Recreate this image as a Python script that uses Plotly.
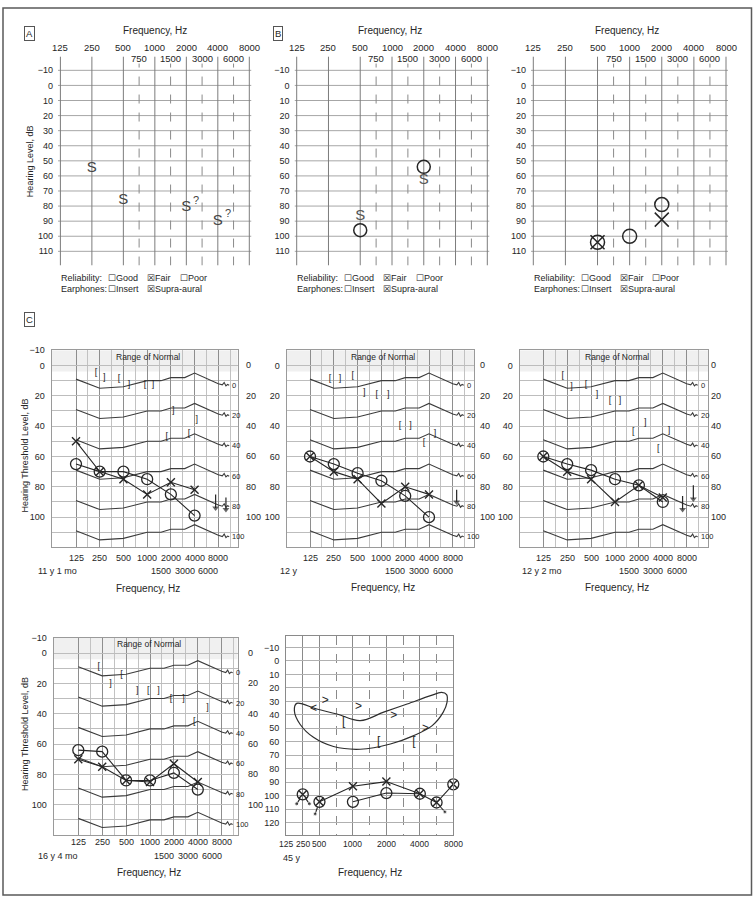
import math
import plotly.graph_objects as go

W, H = 755, 900
FONT = "Liberation Sans, Arial, sans-serif"
INK = "#262626"

# ======================= DATA =======================
# ---- top row: half-octave audiogram form (columns) ----
TOP_FREQS = [125, 250, 500, 750, 1000, 1500, 2000, 3000, 4000, 6000, 8000]
TOP_POS = [0, 2, 4, 5, 6, 7, 8, 9, 10, 11, 12]
TOP_OCTAVE_FREQS = [125, 250, 500, 1000, 2000, 4000, 8000]
TOP_OCTAVE_LABELS = ["125", "250", "500", "1000", "2000", "4000", "8000"]
TOP_MID_FREQS = [750, 1500, 3000, 6000]
TOP_MID_LABELS = ["750", "1500", "3000", "6000"]
TOP_DB_TICKS = [-10, 0, 10, 20, 30, 40, 50, 60, 70, 80, 90, 100, 110]

A_S_FREQ = [250, 500, 2000, 4000]
A_S_DB = [55, 76, 81, 90]
A_S_QUERY = [False, False, True, True]

B_S_FREQ = [500, 2000]
B_S_DB = [87, 63]
B_O_FREQ = [500, 2000]
B_O_DB = [96, 54]

T3_O_FREQ = [500, 1000, 2000]
T3_O_DB = [104, 100, 79]
T3_X_FREQ = [500, 2000]
T3_X_DB = [104, 89]

RELIABILITY_ITEMS = ["Good", "Fair", "Poor"]
RELIABILITY_CHECKED = "Fair"
EARPHONE_ITEMS = ["Insert", "Supra-aural"]
EARPHONE_CHECKED = "Supra-aural"

# ---- C row: serial audiograms (log frequency) ----
C_FREQS = [125, 250, 500, 1000, 2000, 4000]
C_OCTAVES = [125, 250, 500, 1000, 2000, 4000, 8000]
C_OCTAVE_LABELS = ["125", "250", "500", "1000", "2000", "4000", "8000"]
C_MID_FREQS = [1500, 3000, 6000]
C_MID_LABELS = ["1500", "3000", "6000"]
C_HALF_OCTAVES = [177, 354, 707, 1414, 2828, 5657, 11314]
C_RIGHT_TICKS = [0, 20, 40, 60, 80, 100]
NORMAL_FREQS = [125, 250, 500, 1000, 1500, 2000, 3000, 4000, 8000]
NORMAL_SHAPE = [9, 15, 14, 10, 10, 8, 8, 5, 12]
NORMAL_OFFSETS = [0, 20, 40, 60, 80, 100]

C1_AGE = "11 y 1 mo"
C1_O = [65, 70, 70, 75, 85, 99]
C1_X = [50, 70, 75, 85, 77, 82]
C1_BR_SYM = ["[", "]", "[", "]", "[", "]", "]", "]", "[", "["]
C1_BR_FREQ = [225, 285, 440, 590, 940, 1190, 2150, 4250, 1780, 3400]
C1_BR_DB = [5, 8, 9, 13, 13, 13, 30, 36, 47, 45]
C1_NR_FREQ = [7400, 10000]
C1_NR_FROM = [85, 87]
C1_NR_TO = [94, 95]

C2_AGE = "12 y"
C2_O = [60, 65, 71, 76, 86, 100]
C2_X = [60, 70, 75, 91, 80, 85]
C2_BR_SYM = ["[", "]", "[", "]", "[", "]", "[", "]", "]", "["]
C2_BR_FREQ = [224, 300, 433, 608, 874, 1220, 1720, 2340, 4760, 3450]
C2_BR_DB = [9, 9, 7, 18, 19, 19, 40, 40, 45, 51]
C2_NR_FREQ = [8950]
C2_NR_FROM = [82]
C2_NR_TO = [90]

C3_AGE = "12 y 2 mo"
C3_O = [60, 65, 69, 75, 79, 90]
C3_X = [60, 70, 75, 90, 79, 87]
C3_BR_SYM = ["[", "]", "[", "]", "[", "]", "[", "]", "]", "["]
C3_BR_FREQ = [219, 283, 431, 592, 863, 1160, 1700, 2400, 4800, 3500]
C3_BR_DB = [7, 14, 13, 19, 23.5, 23.5, 44, 38, 43, 55]
C3_NR_FREQ = [7100, 9700]
C3_NR_FROM = [86, 79]
C3_NR_TO = [95, 88]

C4_AGE = "16 y 4 mo"
C4_O = [64, 65, 84, 84, 79, 90]
C4_X = [70, 75, 84, 85, 73, 85]
C4_BR_SYM = ["[", "]", "[", "]", "[", "]", "[", "]", "]", "["]
C4_BR_FREQ = [226, 319, 437, 690, 950, 1280, 1840, 2650, 5300, 3600]
C4_BR_DB = [9, 20, 14, 25, 25, 25, 30, 30, 36, 45]
C4_NR_FREQ = []
C4_NR_FROM = []
C4_NR_TO = []

# ---- 45 y panel (equally spaced columns) ----
D_FREQS = [125, 250, 500, 750, 1000, 1500, 2000, 3000, 4000, 6000, 8000]
D_SOLID = [125, 250, 500, 1000, 2000, 4000, 8000]
D_DASHED = [750, 1500, 3000, 6000]
D_LABELS = ["125", "250", "500", "1000", "2000", "4000", "8000"]
D_DB_TICKS = [-10, 0, 10, 20, 30, 40, 50, 60, 70, 80, 90, 100, 110, 120]
D_AGE = "45 y"
D_X_FREQ = [250, 500, 1000, 2000, 4000, 6000, 8000]
D_X_DB = [99, 104.5, 93, 89.5, 98.5, 105, 91.5]
D_O_FREQ = [250, 500, 1000, 2000, 4000, 6000, 8000]
D_O_DB = [99, 104.5, 104.5, 98, 98.5, 105, 91.5]
D_X_LINE = [500, 1000, 2000, 4000, 6000, 8000]
D_O_LINE = [1000, 2000, 4000]
D_NR_FREQ = [250, 250, 500, 6000, 8000]
D_NR_DIDX = [-0.36, 0.4, -0.26, 0.5, 0.4]
D_NR_DDB = [7, 7, 9, 7, 9.5]
D_RANGE_IDX = [0.64, 1.84, 3.04, 4.44, 5.84, 7.24, 8.64, 9.3, 9.6, 9.62, 9.4, 8.74, 7.64, 6.24, 4.44, 2.84, 1.64, 0.84, 0.5, 0.64]
D_RANGE_DB = [31.5, 35.7, 39.4, 44.3, 38, 32, 25.8, 23.4, 25, 31, 38, 48, 55.4, 61.6, 65.5, 63.5, 56.7, 47, 37, 31.5]
D_SYM = ["<", ">", ">", "[", ">", ">", "[", "["]
D_SYM_IDX = [1.64, 2.34, 4.34, 3.44, 6.44, 8.34, 5.54, 7.64]
D_SYM_DB = [35.5, 29.5, 34.5, 45.5, 40.5, 50.5, 60.5, 60.5]

# ======================= HELPERS =======================
def px(x):
    return x / W


def py(y):
    return 1 - y / H


def lin_range(p0, v0, p1, v1, e0, e1):
    s = (v1 - v0) / (p1 - p0)
    return [v0 + (e0 - p0) * s, v0 + (e1 - p0) * s]


fig = go.Figure()
ann = []
shapes = []
lay = {}


def names(n):
    if n == 1:
        return "xaxis", "yaxis", "x", "y"
    return f"xaxis{n}", f"yaxis{n}", f"x{n}", f"y{n}"


def note(text, x, y, size=9.5, xanchor="center", yanchor="middle",
         xref="paper", yref="paper", color=INK, **kw):
    ann.append(dict(text=text, x=x, y=y, xref=xref, yref=yref, showarrow=False,
                    font=dict(family=FONT, size=size, color=color),
                    xanchor=xanchor, yanchor=yanchor, **kw))


def marker_trace(xr, yr, x, y, symbol, size, width=1.3, color=INK):
    fig.add_trace(go.Scatter(
        x=x, y=y, mode="markers", xaxis=xr, yaxis=yr, hoverinfo="skip", cliponaxis=False,
        marker=dict(symbol=symbol, size=size, color=color,
                    line=dict(width=width, color=color))))


def text_trace(xr, yr, x, y, txt, size, color=INK, family=FONT):
    fig.add_trace(go.Scatter(
        x=x, y=y, mode="text", text=txt, xaxis=xr, yaxis=yr, hoverinfo="skip",
        cliponaxis=False, textfont=dict(size=size, color=color, family=family)))


# ======================= TOP ROW =======================
pos_top = dict(zip(TOP_FREQS, TOP_POS))
TOP_PANELS = [
    dict(n=1, p0=60.4, p12=249.3, e=(58.0, 251.5), rel_x=59.0, freq_title_x=155.0),
    dict(n=2, p0=296.7, p12=487.3, e=(294.5, 489.5), rel_x=295.0, freq_title_x=390.0),
    dict(n=3, p0=533.3, p12=726.0, e=(531.0, 728.0), rel_x=531.7, freq_title_x=626.7),
]
TOP_Y_RANGE = lin_range(65.7, -10, 247.7, 110, 262, 51.7)
for P in TOP_PANELS:
    xa, ya, xr, yr = names(P["n"])
    e0, e1 = P["e"]
    xrange_ = lin_range(P["p0"], 0, P["p12"], 12, e0, e1)
    lay[xa] = dict(domain=[px(e0), px(e1)], range=xrange_, anchor=yr,
                   showticklabels=False, ticks="", showgrid=False,
                   zeroline=False, showline=False, fixedrange=True)
    lay[ya] = dict(domain=[py(262), py(51.7)], range=TOP_Y_RANGE, anchor=xr,
                   tickvals=TOP_DB_TICKS, tickfont=dict(family=FONT, size=9, color=INK),
                   showgrid=False, zeroline=False, ticks="", showline=False,
                   fixedrange=True, ticklabelstandoff=4)
    # grid of the audiogram form
    for v in TOP_DB_TICKS:
        shapes.append(dict(type="line", xref=xr, yref=yr, x0=xrange_[0], x1=xrange_[1],
                           y0=v, y1=v, line=dict(color="#a6a6a6", width=1), layer="below"))
    for f in TOP_OCTAVE_FREQS:
        shapes.append(dict(type="line", xref=xr, yref=yr, x0=pos_top[f], x1=pos_top[f],
                           y0=TOP_Y_RANGE[0], y1=TOP_Y_RANGE[1],
                           line=dict(color="#7c7c7c", width=1), layer="below"))
    for f in TOP_MID_FREQS:
        shapes.append(dict(type="line", xref=xr, yref=yr, x0=pos_top[f], x1=pos_top[f],
                           y0=TOP_Y_RANGE[0], y1=-14.5,
                           line=dict(color="#8a8a8a", width=1, dash="dash"), layer="below"))
    for f, lab in zip(TOP_OCTAVE_FREQS, TOP_OCTAVE_LABELS):
        note(lab, pos_top[f], py(42.7), size=9.5, xref=xr)
    for f, lab in zip(TOP_MID_FREQS, TOP_MID_LABELS):
        note(lab, pos_top[f], py(53.8), size=9.5, xref=xr)
    note("Frequency, Hz", px(P["freq_title_x"]), py(26), size=10)
    # reliability / earphones
    x0 = P["rel_x"]
    offs = [47, 86, 118.7]
    note("Reliability:", px(x0), py(275), size=9, xanchor="left")
    for o, item in zip(offs, RELIABILITY_ITEMS):
        box = "☒" if item == RELIABILITY_CHECKED else "☐"
        note(box + item, px(x0 + o), py(275), size=9, xanchor="left")
    note("Earphones:", px(x0), py(285.5), size=9, xanchor="left")
    for o, item in zip(offs, EARPHONE_ITEMS):
        box = "☒" if item == EARPHONE_CHECKED else "☐"
        note(box + item, px(x0 + o), py(285.5), size=9, xanchor="left")

# panel A marks
text_trace("x", "y", [pos_top[f] for f in A_S_FREQ], A_S_DB, ["S"] * len(A_S_FREQ), 15,
           color="#444")
for f, d, q in zip(A_S_FREQ, A_S_DB, A_S_QUERY):
    if q:
        ann.append(dict(text="?", x=pos_top[f], y=d, xref="x", yref="y", showarrow=False,
                        xshift=10, yshift=8, font=dict(family=FONT, size=11, color="#444")))
note("Hearing Level, dB", px(30), py(157), size=9, textangle=-90)
note("A", px(29), py(29), size=9.5, bordercolor="#555", borderwidth=1, borderpad=1)

# panel B marks
text_trace("x2", "y2", [pos_top[f] for f in B_S_FREQ], B_S_DB, ["S", "S"], 15, color="#555")
marker_trace("x2", "y2", [pos_top[f] for f in B_O_FREQ], B_O_DB, "circle-open", 13, width=1.5)
note("B", px(278), py(29), size=9.5, bordercolor="#555", borderwidth=1, borderpad=1)

# third top panel marks
marker_trace("x3", "y3", [pos_top[f] for f in T3_O_FREQ], T3_O_DB, "circle-open", 14, width=1.5)
marker_trace("x3", "y3", [pos_top[f] for f in T3_X_FREQ], T3_X_DB, "x-thin-open", 14, width=1.5)

# ======================= C ROW =======================
C_PANELS = [
    dict(n=4, p125=76.0, p8000=218.3, ex=(51.5, 237.5), p0=362.5, p100=515.0, ey=(347.25, 545.5),
         O=C1_O, X=C1_X, brs=C1_BR_SYM, brf=C1_BR_FREQ, brd=C1_BR_DB,
         nrf=C1_NR_FREQ, nra=C1_NR_FROM, nrb=C1_NR_TO, age=C1_AGE, ticks_m10=True,
         rows=(556.5, 569.5, 586.5), age_x=36.0, right_x=244.0),
    dict(n=5, p125=310.0, p8000=452.8, ex=(286.5, 474.0), p0=362.5, p100=515.0, ey=(347.25, 545.5),
         O=C2_O, X=C2_X, brs=C2_BR_SYM, brf=C2_BR_FREQ, brd=C2_BR_DB,
         nrf=C2_NR_FREQ, nra=C2_NR_FROM, nrb=C2_NR_TO, age=C2_AGE, ticks_m10=False,
         rows=(556.5, 569.5, 585.5), age_x=278.0, right_x=477.5),
    dict(n=6, p125=543.3, p8000=686.7, ex=(519.5, 708.0), p0=362.5, p100=515.0, ey=(347.25, 545.5),
         O=C3_O, X=C3_X, brs=C3_BR_SYM, brf=C3_BR_FREQ, brd=C3_BR_DB,
         nrf=C3_NR_FREQ, nra=C3_NR_FROM, nrb=C3_NR_TO, age=C3_AGE, ticks_m10=False,
         rows=(556.5, 569.5, 585.5), age_x=520.0, right_x=709.0),
    dict(n=7, p125=78.3, p8000=221.7, ex=(53.5, 237.5), p0=651.7, p100=804.2, ey=(636.4, 834.7),
         O=C4_O, X=C4_X, brs=C4_BR_SYM, brf=C4_BR_FREQ, brd=C4_BR_DB,
         nrf=C4_NR_FREQ, nra=C4_NR_FROM, nrb=C4_NR_TO, age=C4_AGE, ticks_m10=True,
         rows=(841.5, 856.0, 872.0), age_x=36.0, right_x=246.0),
]
TAIL_F = [8000, 9000, 9500, 10000, 10500, 11000]
TAIL_D = [0, 0.8, -0.8, 1.5, 0.5, 1.0]
for P in C_PANELS:
    xa, ya, xr, yr = names(P["n"])
    e0, e1 = P["ex"]
    t0, t1 = P["ey"]
    lay[xa] = dict(domain=[px(e0), px(e1)], type="log",
                   range=lin_range(P["p125"], math.log10(125), P["p8000"], math.log10(8000), e0, e1),
                   anchor=yr, tickvals=C_OCTAVES, showticklabels=False, ticks="",
                   showgrid=True, gridcolor="#8e8e8e", gridwidth=1, zeroline=False,
                   showline=True, mirror=True, linecolor="#9a9a9a", linewidth=1, fixedrange=True,
                   minor=dict(tickvals=C_HALF_OCTAVES, showgrid=True, gridcolor="#c2c2c2", gridwidth=1))
    lticks = ([-10] if P["ticks_m10"] else []) + C_RIGHT_TICKS
    lay[ya] = dict(domain=[py(t1), py(t0)], range=lin_range(P["p0"], 0, P["p100"], 100, t1, t0),
                   anchor=xr, tickvals=lticks, tickfont=dict(family=FONT, size=9, color=INK),
                   showgrid=True, gridcolor="#bdbdbd", gridwidth=1, zeroline=False, ticks="",
                   showline=True, mirror=True, linecolor="#9a9a9a", linewidth=1, fixedrange=True,
                   ticklabelstandoff=4,
                   minor=dict(tickvals=[10, 30, 50, 70, 90, 110], showgrid=True,
                              gridcolor="#bdbdbd", gridwidth=1))
    shapes.append(dict(type="rect", xref=f"{xr} domain", yref=yr, x0=0, x1=1, y0=-10, y1=4,
                       fillcolor="#f0f0f0", line=dict(width=0), layer="below"))
    # normal reference curves
    for off in NORMAL_OFFSETS:
        fx = NORMAL_FREQS + TAIL_F[1:]
        fy = [v + off for v in NORMAL_SHAPE] + [NORMAL_SHAPE[-1] + off + d for d in TAIL_D[1:]]
        fig.add_trace(go.Scatter(x=fx, y=fy, mode="lines", xaxis=xr, yaxis=yr, hoverinfo="skip",
                                 line=dict(color="#3c3c3c", width=1.1)))
        ann.append(dict(text=str(off), x=math.log10(11300), y=NORMAL_SHAPE[-1] + off + 1,
                        xref=xr, yref=yr, showarrow=False, xanchor="left",
                        font=dict(family=FONT, size=7.5, color=INK)))
    # thresholds
    fig.add_trace(go.Scatter(x=C_FREQS, y=P["O"], mode="lines+markers", xaxis=xr, yaxis=yr,
                             hoverinfo="skip", cliponaxis=False, line=dict(color=INK, width=1.1),
                             marker=dict(symbol="circle-open", size=11, color=INK,
                                         line=dict(width=1.3, color=INK))))
    fig.add_trace(go.Scatter(x=C_FREQS, y=P["X"], mode="lines+markers", xaxis=xr, yaxis=yr,
                             hoverinfo="skip", cliponaxis=False, line=dict(color=INK, width=1.1),
                             marker=dict(symbol="x-thin-open", size=8, color=INK,
                                         line=dict(width=1.4, color=INK))))
    # masked bone conduction brackets
    text_trace(xr, yr, P["brf"], P["brd"], P["brs"], 9)
    # no-response arrows
    for f, a, b in zip(P["nrf"], P["nra"], P["nrb"]):
        fig.add_trace(go.Scatter(x=[f, f], y=[a, b], mode="lines+markers", xaxis=xr, yaxis=yr,
                                 hoverinfo="skip", line=dict(color=INK, width=1.2),
                                 marker=dict(symbol=["line-ew", "triangle-down"], size=[1, 6],
                                             color=INK, line=dict(width=0))))
    # labels
    cx = (e0 + e1) / 2
    note("Range of Normal", px(cx + 3), py(t0 + 6.5), size=8.5)
    for f, lab in zip(C_OCTAVES, C_OCTAVE_LABELS):
        note(lab, math.log10(f), py(P["rows"][0]), size=9, xref=xr)
    for f, lab in zip(C_MID_FREQS, C_MID_LABELS):
        note(lab, math.log10(f), py(P["rows"][1]), size=9, xref=xr)
    note(P["age"], px(P["age_x"]), py(P["rows"][1]), size=9, xanchor="left")
    note("Frequency, Hz", px(cx + 3), py(P["rows"][2]), size=10)
    for v in C_RIGHT_TICKS:
        note(str(v), px(P["right_x"]), v, size=9, xanchor="left", yref=yr)

note("Hearing Threshold Level, dB", px(25), py(453), size=9, textangle=-90)
note("Hearing Threshold Level, dB", px(25), py(733), size=9, textangle=-90)
note("C", px(29), py(316.7), size=9.5, bordercolor="#555", borderwidth=1, borderpad=1)

# ======================= 45 y PANEL =======================
pos_d = {f: i for i, f in enumerate(D_FREQS)}
xa, ya, xr, yr = "xaxis8", "yaxis8", "x8", "y8"
lay[xa] = dict(domain=[px(286.0), px(453.3)], range=[0, 10], anchor=yr,
               tickvals=[pos_d[f] for f in D_SOLID], showticklabels=False, ticks="",
               showgrid=True, gridcolor="#8a8a8a", gridwidth=1, zeroline=False,
               showline=True, mirror=True, linecolor="#8a8a8a", linewidth=1, fixedrange=True,
               minor=dict(tickvals=[pos_d[f] for f in D_DASHED], showgrid=True,
                          gridcolor="#8a8a8a", griddash="dash", gridwidth=1))
lay[ya] = dict(domain=[py(835), py(635)], range=lin_range(646, -10, 822.3, 120, 835, 635),
               anchor=xr, tickvals=D_DB_TICKS, tickfont=dict(family=FONT, size=9, color=INK),
               showgrid=True, gridcolor="#b0b0b0", gridwidth=1, zeroline=False, ticks="",
               showline=True, mirror=True, linecolor="#8a8a8a", linewidth=1, fixedrange=True,
               ticklabelstandoff=4)
fig.add_trace(go.Scatter(x=D_RANGE_IDX, y=D_RANGE_DB, mode="lines", xaxis=xr, yaxis=yr,
                         hoverinfo="skip", line=dict(color="#2e2e2e", width=1.2, shape="spline",
                                                     smoothing=1.0)))
text_trace(xr, yr, D_SYM_IDX, D_SYM_DB, D_SYM, 12)
dx_lookup = dict(zip(D_X_FREQ, D_X_DB))
do_lookup = dict(zip(D_O_FREQ, D_O_DB))
fig.add_trace(go.Scatter(x=[pos_d[f] for f in D_X_LINE], y=[dx_lookup[f] for f in D_X_LINE],
                         mode="lines", xaxis=xr, yaxis=yr, hoverinfo="skip",
                         line=dict(color=INK, width=1.1)))
fig.add_trace(go.Scatter(x=[pos_d[f] for f in D_O_LINE], y=[do_lookup[f] for f in D_O_LINE],
                         mode="lines", xaxis=xr, yaxis=yr, hoverinfo="skip",
                         line=dict(color=INK, width=1.1)))
marker_trace(xr, yr, [pos_d[f] for f in D_O_FREQ], D_O_DB, "circle-open", 11, width=1.3)
marker_trace(xr, yr, [pos_d[f] for f in D_X_FREQ], D_X_DB, "x-thin-open", 8, width=1.4)
for f, ddx, ddb in zip(D_NR_FREQ, D_NR_DIDX, D_NR_DDB):
    x0 = pos_d[f]
    y0 = do_lookup[f]
    fig.add_trace(go.Scatter(x=[x0 + 0.45 * ddx, x0 + ddx], y=[y0 + 0.45 * ddb, y0 + ddb],
                             mode="lines+markers", xaxis=xr, yaxis=yr, hoverinfo="skip",
                             cliponaxis=False, line=dict(color=INK, width=1.1),
                             marker=dict(size=[0, 4], color=INK, symbol="circle")))
for f, lab in zip(D_SOLID, D_LABELS):
    note(lab, pos_d[f], py(843.3), size=8.5, xref=xr)
note(D_AGE, px(281), py(857.5), size=9, xanchor="left")
note("Frequency, Hz", px(370), py(872), size=10)

# ======================= FRAME =======================
shapes.append(dict(type="rect", xref="paper", yref="paper", x0=px(3), x1=px(751.5),
                   y0=py(895), y1=py(3), line=dict(color="#5a5a5a", width=1.5)))

fig.update_layout(width=W, height=H, margin=dict(l=0, r=0, t=0, b=0),
                  paper_bgcolor="white", plot_bgcolor="white", showlegend=False,
                  hovermode=False, annotations=ann, shapes=shapes, **lay)
fig.write_html("out.html", config={"displayModeBar": False, "staticPlot": True},
               post_script="document.body.style.margin='0px';document.body.style.padding='0px';"
                           "document.body.style.overflow='hidden';")
